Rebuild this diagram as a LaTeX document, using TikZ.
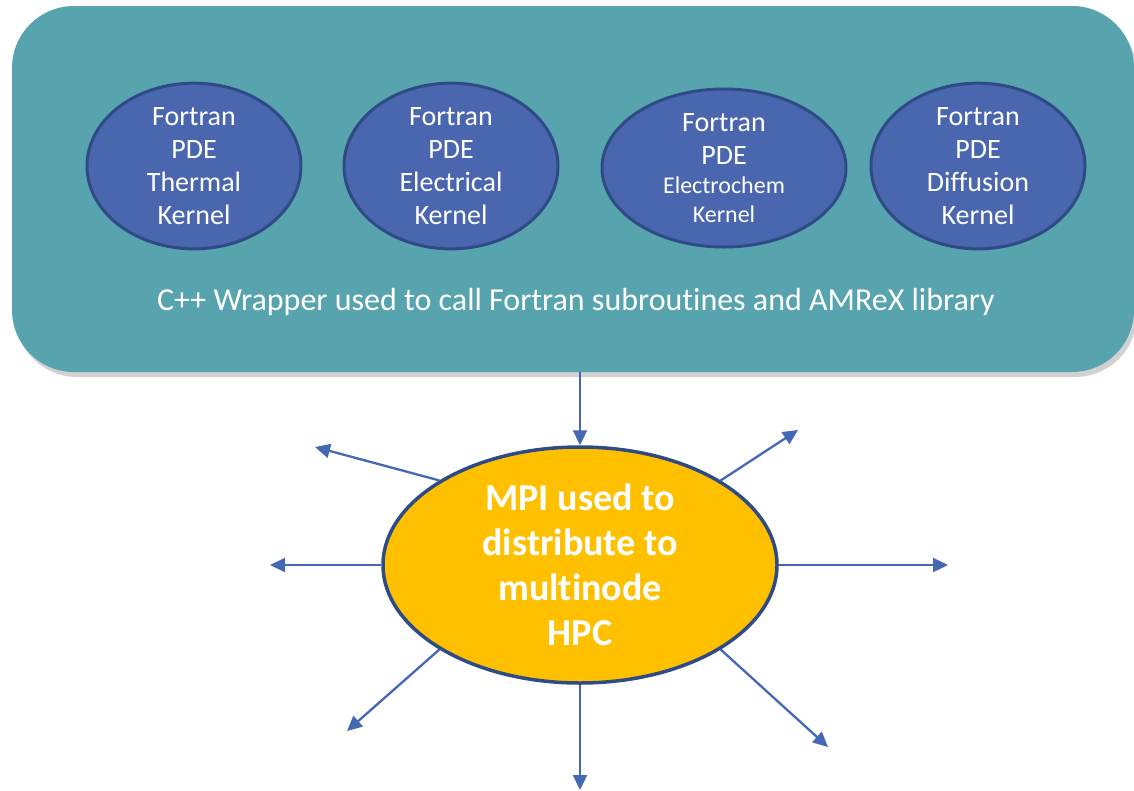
\documentclass[tikz,border=0pt]{standalone}
\usepackage{fontspec}
\setmainfont[Ligatures=NoCommon]{Carlito}
\usetikzlibrary{shapes.geometric,arrows.meta,shadows}
\definecolor{teal1}{HTML}{57A3AE}
\definecolor{kern}{HTML}{4A66AE}
\definecolor{kernb}{HTML}{2F4B85}
\definecolor{gold}{HTML}{FFC000}
\definecolor{arr}{HTML}{4468B4}
\tikzset{
  kernel/.style={ellipse, fill=kern, draw=kernb, line width=3pt, inner sep=0pt,
    minimum width=214pt, minimum height=164pt, text=white, align=center,
    font=\fontsize{28}{33}\selectfont},
  conn/.style={draw=arr, line width=2.3pt, -{Triangle[length=15pt,width=14pt]}},
}
\begin{document}
\begin{tikzpicture}[x=1pt,y=-1pt]
\useasboundingbox (0,0) rectangle (1134,790);
\path[fill=teal1, rounded corners=62pt, drop shadow={shadow xshift=3pt, shadow yshift=-5pt, opacity=0.3, fill=black!60}]
  (12,6) rectangle (1134,372);
\node[kernel] (k1) at (194,166) {Fortran\\PDE\\Thermal\\Kernel};
\node[kernel] (k2) at (451,166) {Fortran\\PDE\\Electrical\\Kernel};
\node[kernel, minimum width=244pt, minimum height=158pt] (k3) at (724,168)
  {Fortran\\PDE\\[-4pt]{\fontsize{24}{30}\selectfont Electrochem}\\[-4pt]{\fontsize{24}{28}\selectfont Kernel}};
\node[kernel] (k4) at (978,166) {Fortran\\PDE\\Diffusion\\Kernel};
\node[text=white, font=\fontsize{32}{36}\selectfont] (wrap) at (576,302)
  {C++ Wrapper used to call Fortran subroutines and AMReX library};
\coordinate (top) at (580,372);
\node[ellipse, fill=gold, draw=kernb, line width=3.5pt, inner sep=0pt,
  minimum width=394pt, minimum height=236pt, text=white, align=center,
  font=\bfseries\fontsize{38}{45}\selectfont] (mpi) at (580,565)
  {MPI used to\\distribute to\\multinode\\HPC};
\coordinate (ul) at (315,447);
\coordinate (ur) at (798,430);
\coordinate (l) at (270,565);
\coordinate (r) at (948,565);
\coordinate (ll) at (347,731);
\coordinate (lr) at (828,747);
\coordinate (b) at (580,790);
\draw[conn] (top) -- (mpi.north);
\draw[conn] (mpi.149) -- (ul);
\draw[conn] (mpi.31) -- (ur);
\draw[conn] (mpi.west) -- (l);
\draw[conn] (mpi.east) -- (r);
\draw[conn] (mpi.211) -- (ll);
\draw[conn] (mpi.329) -- (lr);
\draw[conn] (mpi.south) -- (b);
\end{tikzpicture}
\end{document}
